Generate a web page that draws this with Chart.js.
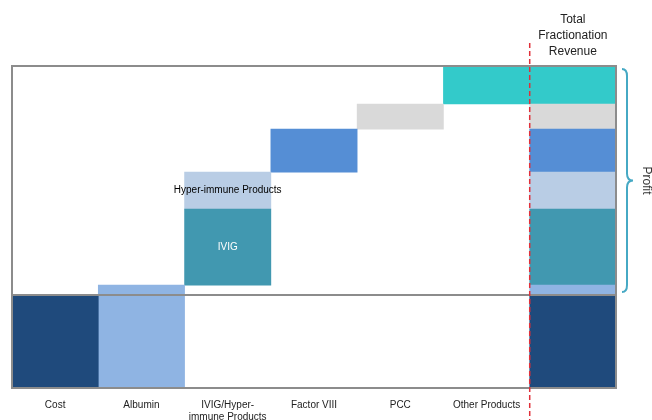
<!DOCTYPE html>
<html>
<head>
<meta charset="utf-8">
<script src="https://cdn.jsdelivr.net/npm/chart.js@4"></script>
<style>
html,body{margin:0;padding:0;background:#fff;}
#wrap{width:652px;height:420px;position:relative;}
</style>
</head>
<body>
<div id="wrap"><canvas id="c"></canvas></div>
<script>
// ---- data ----
const categories = ['Cost', 'Albumin', ['IVIG/Hyper-', 'immune Products'], 'Factor VIII', 'PCC', 'Other Products', ''];
const totalLabel = ['Total', 'Fractionation', 'Revenue'];
const segmentNames = ['Cost', 'Albumin', 'IVIG', 'Hyper-immune Products', 'Factor VIII', 'PCC', 'Other Products'];
const costValue = [29];
const revenueValues = [32, 23.6, 11.5, 13.4, 7.8, 11.8]; // Albumin, IVIG, Hyper-immune, Factor VIII, PCC, Other
const revenueColumn = [1, 2, 2, 3, 4, 5];              // category column each revenue segment sits in
const segmentColors = ['#1f4a7c', '#8fb4e3', '#4198b0', '#b9cde5', '#558ed5', '#d9d9d9', '#33caca'];
const segmentLabels = ['', '', 'IVIG', 'Hyper-immune Products', '', '', ''];
const segmentLabelColors = ['#fff', '#000', '#fff', '#000', '#000', '#000', '#000'];

// ---- build datasets ----
const nCat = categories.length;
const totalIdx = nCat - 1;
const datasets = [];
// cost
{
  const d = new Array(nCat).fill(null);
  d[0] = [0, costValue[0]];
  d[totalIdx] = [0, costValue[0]];
  datasets.push({label: segmentNames[0], data: d, backgroundColor: segmentColors[0]});
}
let run = 0;
revenueValues.forEach((v, i) => {
  const d = new Array(nCat).fill(null);
  d[revenueColumn[i]] = [run, run + v];
  const base = Math.max(run, costValue[0]);
  const t = run + v;
  if (t > costValue[0]) d[totalIdx] = [base, t];
  datasets.push({label: segmentNames[i + 1], data: d, backgroundColor: segmentColors[i + 1]});
  run = t;
});
const revenueTotal = run;

const overlay = {
  id: 'overlay',
  afterDatasetsDraw(chart) {
    const ctx = chart.ctx, ca = chart.chartArea;
    const x = chart.scales.x, y = chart.scales.y;
    ctx.save();
    ctx.font = '10px "Liberation Sans", Arial, sans-serif';
    ctx.textAlign = 'center'; ctx.textBaseline = 'middle';
    chart.data.datasets.forEach((ds, di) => {
      const lab = segmentLabels[di];
      if (!lab) return;
      const col = di === 0 ? 0 : revenueColumn[di - 1];
      const v = ds.data[col];
      ctx.fillStyle = segmentLabelColors[di];
      ctx.fillText(lab, x.getPixelForValue(col), (y.getPixelForValue(v[0]) + y.getPixelForValue(v[1])) / 2);
    });
    // boxes
    const yc = Math.round(y.getPixelForValue(costValue[0]));
    const yt = y.getPixelForValue(revenueTotal);
    const yb = y.getPixelForValue(0);
    ctx.strokeStyle = '#8c8c8c'; ctx.lineWidth = 2;
    ctx.strokeRect(ca.left, yt, ca.right - ca.left, yc - yt);
    ctx.strokeRect(ca.left, yc, ca.right - ca.left, yb - yc);
    // dashed red divider
    const xd = (x.getPixelForValue(totalIdx - 1) + x.getPixelForValue(totalIdx)) / 2;
    ctx.strokeStyle = '#e0303a'; ctx.lineWidth = 1.5; ctx.setLineDash([5, 3]);
    ctx.beginPath(); ctx.moveTo(xd, 43); ctx.lineTo(xd, 420); ctx.stroke();
    ctx.setLineDash([]);
    // total title
    ctx.fillStyle = '#222';
    ctx.font = '12px "Liberation Sans", Arial, sans-serif';
    const xt = x.getPixelForValue(totalIdx);
    totalLabel.forEach((t, i) => ctx.fillText(t, xt, 20 + i * 16));
    // brace
    const top = yt + 3, bot = yc - 3, mid = (top + bot) / 2;
    const bx0 = ca.right + 6, bx1 = ca.right + 11, bx2 = ca.right + 17;
    ctx.strokeStyle = '#46a9c4'; ctx.lineWidth = 2;
    ctx.beginPath();
    ctx.moveTo(bx0, top);
    ctx.quadraticCurveTo(bx1, top, bx1, top + 7);
    ctx.lineTo(bx1, mid - 7);
    ctx.quadraticCurveTo(bx1, mid, bx2, mid);
    ctx.quadraticCurveTo(bx1, mid, bx1, mid + 7);
    ctx.lineTo(bx1, bot - 7);
    ctx.quadraticCurveTo(bx1, bot, bx0, bot);
    ctx.stroke();
    // Profit label
    ctx.save();
    ctx.translate(ca.right + 30, mid);
    ctx.rotate(Math.PI / 2);
    ctx.fillStyle = '#333';
    ctx.font = '12px "Liberation Sans", Arial, sans-serif';
    ctx.fillText('Profit', 0, 0);
    ctx.restore();
    ctx.restore();
  }
};

new Chart(document.getElementById('c'), {
  type: 'bar',
  data: {labels: categories, datasets},
  options: {
    responsive: true, maintainAspectRatio: false, animation: false,
    layout: {padding: {top: 66, left: 12, right: 36, bottom: -6}},
    plugins: {legend: {display: false}, tooltip: {enabled: false}},
    datasets: {bar: {barPercentage: 1, categoryPercentage: 1, borderWidth: 0, borderSkipped: false}},
    scales: {
      x: {stacked: true, grid: {display: false}, border: {display: false},
          ticks: {color: '#222', padding: 3, maxRotation: 0, autoSkip: false,
                  font: {family: '"Liberation Sans", Arial, sans-serif', size: 10, lineHeight: 1.2}}},
      y: {display: false, stacked: false, min: 0, max: revenueTotal}
    }
  },
  plugins: [overlay]
});
</script>
</body>
</html>
